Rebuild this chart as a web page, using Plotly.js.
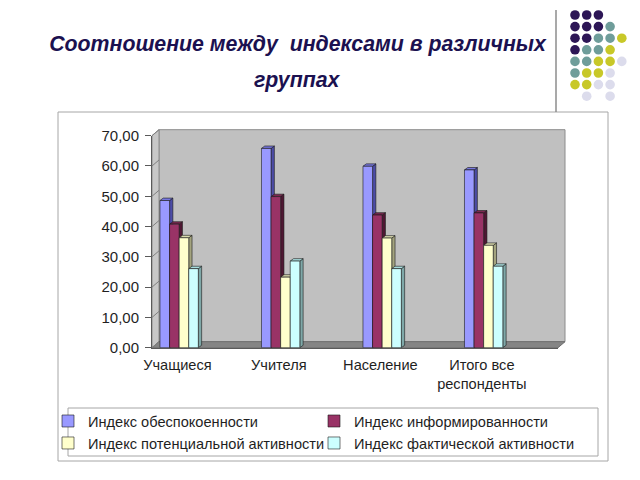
<!DOCTYPE html>
<html>
<head>
<meta charset="utf-8">
<script src="https://cdn.plot.ly/plotly-3.0.1.min.js"></script>
<style>html,body{margin:0;padding:0;background:#fff;overflow:hidden;}#chart{width:640px;height:480px;}</style>
</head>
<body>
<div id="chart"></div>
<script>
// ---------- data ----------
const categories = ['Учащиеся', 'Учителя', 'Население', 'Итого все<br>респонденты'];
const seriesNames = ['Индекс обеспокоенности', 'Индекс информированности',
                     'Индекс потенциальной активности', 'Индекс фактической активности'];
const anxiety   = [48.6, 65.8, 59.9, 58.7];
const awareness = [40.8, 49.9, 43.8, 44.5];
const potential = [36.3, 23.3, 36.2, 33.8];
const actual    = [26.1, 28.6, 26.1, 26.9];
const yTicks = [0, 10, 20, 30, 40, 50, 60, 70];
const titleLine1 = 'Соотношение между  индексами в различных';
const titleLine2 = 'группах';

// decoration dot pattern (P purple, T teal, Y yellow, L lavender)
const dotPattern = ['PPP..', 'PPPT.', 'PPTTY', 'PTTY.', 'TTYYL', 'TYYL.', 'YYLL.', '.L.L.'];

// ---------- styling ----------
const series = [anxiety, awareness, potential, actual];
const frontCol = ['#9999ff', '#993366', '#ffffcc', '#ccffff'];
const sideCol  = ['#4c4ca6', '#4f1733', '#a3a37e', '#7fa8a8'];
const topCol   = ['#7777dd', '#7a2850', '#d9d9ad', '#a8dddd'];
const dotCol = {P: '#2d1656', T: '#6f9d9a', Y: '#c8c828', L: '#dcdcec'};
const FONT = 'Liberation Sans, Arial, sans-serif';

const W = 640, H = 480;
const px = x => x / W, py = y => 1 - y / H;
const FX0 = 152, FX1 = 558, FY0 = 347.7, FY1 = 135.7; // front plane
const DX = 7, DY = 6;                                  // wall depth (px)
const YMAX = 70;
const yf = v => FY0 - (FY0 - FY1) * v / YMAX;

const slots = categories.map((c, i) => 2 * i);
const barW = 0.189;
const offsets = [-0.343, -0.154, 0.035, 0.224];
const fdx = 0.065, fdy = 0.8; // bar depth in data units

// ---------- traces ----------
const traces = [];
series.forEach((vals, k) => {
  const sx = [], sy = [], tx = [], ty = [];
  vals.forEach((v, i) => {
    const L = slots[i] + offsets[k], R = L + barW;
    sx.push(R, R + fdx, R + fdx, R, R, null);
    sy.push(0, fdy, v + fdy, v, 0, null);
    tx.push(L, L + fdx, R + fdx, R, L, null);
    ty.push(v, v + fdy, v + fdy, v, v, null);
  });
  traces.push({type: 'scatter', mode: 'lines', x: sx, y: sy, xaxis: 'x2', yaxis: 'y2',
    fill: 'toself', fillcolor: sideCol[k], line: {color: '#1a1a1a', width: 0.6},
    showlegend: false, hoverinfo: 'skip'});
  traces.push({type: 'scatter', mode: 'lines', x: tx, y: ty, xaxis: 'x2', yaxis: 'y2',
    fill: 'toself', fillcolor: topCol[k], line: {color: '#1a1a1a', width: 0.6},
    showlegend: false, hoverinfo: 'skip'});
});
series.forEach((vals, k) => {
  traces.push({type: 'bar', name: seriesNames[k], x: slots, y: vals,
    xaxis: 'x3', yaxis: 'y3', width: barW, offset: offsets[k],
    marker: {color: frontCol[k], line: {color: '#1a1a1a', width: 0.6}},
    hoverinfo: 'y'});
});

// ---------- decoration shapes ----------
const shapes = [];
// outer chart box
shapes.push({type: 'rect', xref: 'paper', yref: 'paper', x0: px(58), x1: px(608), y0: py(461), y1: py(112),
  line: {color: '#a6a6a6', width: 1}, fillcolor: 'rgba(0,0,0,0)', layer: 'below'});
// slide separator line
shapes.push({type: 'line', xref: 'paper', yref: 'paper', x0: px(556), x1: px(556), y0: py(10), y1: py(112),
  line: {color: '#8c8c8c', width: 1.5}});
// dots
dotPattern.forEach((row, r) => {
  row.split('').forEach((c, ci) => {
    if (c === '.') return;
    const cx = 575 + 11.7 * ci, cy = 15 + 11.6 * r, rad = 4.8;
    shapes.push({type: 'circle', xref: 'paper', yref: 'paper',
      x0: px(cx - rad), x1: px(cx + rad), y0: py(cy + rad), y1: py(cy - rad),
      fillcolor: dotCol[c], line: {width: 0}});
  });
});
const pathP = pts => 'M' + pts.map(p => px(p[0]) + ',' + py(p[1])).join('L') + 'Z';
// back wall
shapes.push({type: 'path', xref: 'paper', yref: 'paper', layer: 'below',
  path: pathP([[FX0 + DX, FY1 - DY], [FX1 + DX, FY1 - DY], [FX1 + DX, FY0 - DY], [FX0 + DX, FY0 - DY]]),
  fillcolor: '#c0c0c0', line: {color: '#8c8c8c', width: 1}});
// left wall
shapes.push({type: 'path', xref: 'paper', yref: 'paper', layer: 'below',
  path: pathP([[FX0, FY1], [FX0 + DX, FY1 - DY], [FX0 + DX, FY0 - DY], [FX0, FY0]]),
  fillcolor: '#c8c8c8', line: {color: '#8c8c8c', width: 1}});
// floor
shapes.push({type: 'path', xref: 'paper', yref: 'paper', layer: 'below',
  path: pathP([[FX0, FY0], [FX1, FY0], [FX1 + DX, FY0 - DY], [FX0 + DX, FY0 - DY]]),
  fillcolor: '#858585', line: {color: '#6e6e6e', width: 1}});
// left-wall gridline segments
yTicks.forEach(t => {
  shapes.push({type: 'line', xref: 'paper', yref: 'paper', layer: 'below',
    x0: px(FX0), y0: py(yf(t)), x1: px(FX0 + DX), y1: py(yf(t) - DY),
    line: {color: '#808080', width: 1}});
});
// legend box
shapes.push({type: 'rect', xref: 'paper', yref: 'paper', x0: px(68), x1: px(598), y0: py(456), y1: py(408),
  line: {color: '#a6a6a6', width: 1}, fillcolor: '#ffffff', layer: 'below'});

const boundaries = [];
for (let b = -0.5; b <= 2 * categories.length - 0.5; b += 1) boundaries.push(b);
const xr = [-0.5, 2 * categories.length - 0.5];

const layout = {
  width: W, height: H, autosize: false,
  margin: {l: 0, r: 0, t: 0, b: 0, pad: 0, autoexpand: false},
  paper_bgcolor: '#ffffff', plot_bgcolor: 'rgba(0,0,0,0)',
  separators: ', ',
  font: {family: FONT, size: 15, color: '#1f1f1f'},
  showlegend: true,
  barmode: 'overlay',
  title: {text: titleLine1, x: px(297.5), xanchor: 'center', xref: 'paper',
    y: py(44), yanchor: 'middle', yref: 'paper', automargin: false,
    font: {family: FONT, size: 21.3, color: '#1b1150', weight: 'bold', style: 'italic'}},
  annotations: [{text: titleLine2, xref: 'paper', yref: 'paper', x: px(297), y: py(80),
    xanchor: 'center', yanchor: 'middle', showarrow: false,
    font: {family: FONT, size: 21.3, color: '#1b1150', weight: 'bold', style: 'italic'}}],
  // back wall (grid only)
  xaxis: {domain: [px(FX0 + DX), px(FX1 + DX)], range: xr, anchor: 'y', visible: false, fixedrange: true},
  yaxis: {domain: [py(FY0 - DY), py(FY1 - DY)], range: [0, YMAX], anchor: 'x', tickvals: yTicks,
    showticklabels: false, ticks: '', showgrid: true, gridcolor: '#808080', gridwidth: 1,
    zeroline: false, showline: false, fixedrange: true},
  // front plane
  xaxis2: {domain: [px(FX0), px(FX1)], range: xr, anchor: 'y2', tickvals: slots, ticktext: categories,
    ticks: '', showgrid: false, zeroline: false, showline: true, linecolor: '#5a5a5a', linewidth: 1,
    tickfont: {family: FONT, size: 14.6, color: '#1f1f1f'}, ticklabelstandoff: 4, fixedrange: true},
  yaxis2: {domain: [py(FY0), py(FY1)], range: [0, YMAX], anchor: 'x2', tickvals: yTicks, tickformat: '.2f',
    ticks: 'outside', ticklen: 6, tickcolor: '#5a5a5a', showgrid: false, zeroline: false,
    showline: true, linecolor: '#5a5a5a', linewidth: 1,
    tickfont: {family: FONT, size: 15, color: '#1f1f1f'}, ticklabelstandoff: 3, fixedrange: true},
  xaxis3: {overlaying: 'x2', anchor: 'y3', range: xr, visible: false, fixedrange: true},
  yaxis3: {overlaying: 'y2', anchor: 'x3', range: [0, YMAX], visible: false, fixedrange: true},
  xaxis4: {overlaying: 'x2', anchor: 'y2', range: xr, tickvals: boundaries, ticks: 'outside', ticklen: 5,
    tickcolor: '#5a5a5a', showticklabels: false, showgrid: false, zeroline: false, showline: false, fixedrange: true},
  legend: {orientation: 'h', x: px(48), y: py(405), xanchor: 'left', yanchor: 'top',
    entrywidth: 221, entrywidthmode: 'pixels', bgcolor: 'rgba(0,0,0,0)', borderwidth: 0,
    font: {family: FONT, size: 14.6, color: '#1f1f1f'}, traceorder: 'normal', itemwidth: 30},
  shapes: shapes
};

Plotly.newPlot('chart', traces, layout, {displayModeBar: false, staticPlot: true});
</script>
</body>
</html>
